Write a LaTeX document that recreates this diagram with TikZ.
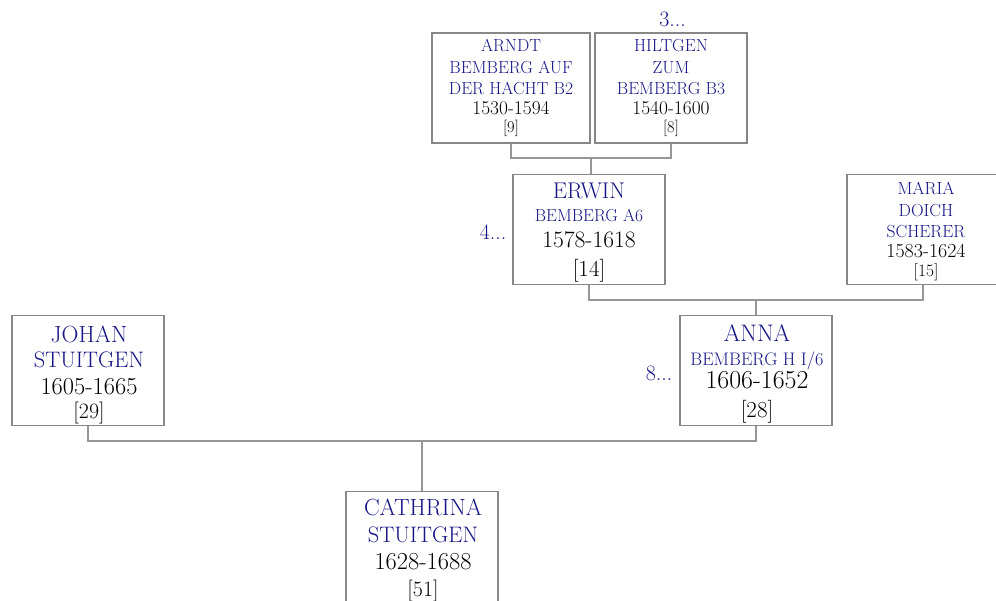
\documentclass[tikz,border=0pt]{standalone}
\usepackage{fontspec}
\definecolor{nameblue}{RGB}{22,22,135}
\definecolor{boxgray}{RGB}{135,135,135}
\definecolor{linegray}{RGB}{150,150,150}
\newcommand{\fs}[1]{\fontsize{#1}{#1}\selectfont}
\begin{document}
\begin{tikzpicture}[x=1bp,y=-1bp,
  person/.style={draw=boxgray, line width=1.1bp, fill=white, minimum height=110bp, inner sep=0},
  nm/.style={text=nameblue, anchor=base, inner sep=0},
  dt/.style={text=black, anchor=base, inner sep=0},
  more/.style={text=nameblue, anchor=base, inner sep=0, font=\fs{22}},
  conn/.style={draw=linegray, line width=1.2bp}]
\useasboundingbox (0,0) rectangle (996,601);
% boxes
\node[person, minimum width=158bp] (arndt) at (511,88) {};
\node[person, minimum width=152bp] (hiltgen) at (671,88) {};
\node[person, minimum width=152bp] (erwin) at (589,229.5) {};
\node[person, minimum width=152bp] (maria) at (923,229.5) {};
\node[person, minimum width=152bp] (anna) at (756,370.5) {};
\node[person, minimum width=152bp] (johan) at (88,370.5) {};
\node[person, minimum width=152bp] (cathrina) at (422,546.5) {};
% junctions
\coordinate (j1) at (591,158);
\coordinate (j2) at (756,300);
\coordinate (j3) at (422,441);
% connectors
\draw[conn] (arndt.south) |- (j1) -| (hiltgen.south);
\draw[conn] (j1) -- (j1 |- erwin.north);
\draw[conn] (erwin.south) |- (j2) -| (maria.south);
\draw[conn] (j2) -- (j2 |- anna.north);
\draw[conn] (johan.south) |- (j3) -| (anna.south);
\draw[conn] (j3) -- (j3 |- cathrina.north);
% ARNDT
\node[nm, font=\fs{17.5}] (a1) at (511,51.5) {ARNDT};
\node[nm, font=\fs{17.5}] (a2) at (511,73.5) {BEMBERG AUF};
\node[nm, font=\fs{17.5}] (a3) at (511,95) {DER HACHT B2};
\node[dt, font=\fs{19.5}] (a4) at (511,114.5) {1530-1594};
\node[dt, font=\fs{16.5}] (a5) at (511,132.5) {[9]};
% HILTGEN
\node[nm, font=\fs{17.5}] (h1) at (671,51.5) {HILTGEN};
\node[nm, font=\fs{17.5}] (h2) at (671,73.5) {ZUM};
\node[nm, font=\fs{17.5}] (h3) at (671,95) {BEMBERG B3};
\node[dt, font=\fs{19.5}] (h4) at (671,114.5) {1540-1600};
\node[dt, font=\fs{16.5}] (h5) at (671,132.5) {[8]};
\node[more] (m3) at (672.5,27) {3...};
% ERWIN
\node[nm, font=\fs{22.8}] (e1) at (589,199) {ERWIN};
\node[nm, font=\fs{17.4}] (e2) at (589,222) {BEMBERG A6};
\node[dt, font=\fs{23.6}] (e3) at (589,248) {1578-1618};
\node[dt, font=\fs{23}] (e4) at (589,277) {[14]};
\node[more] (m4) at (493,240) {4...};
% MARIA
\node[nm, font=\fs{17.6}] (r1) at (926,195) {MARIA};
\node[nm, font=\fs{17.6}] (r2) at (926,217) {DOICH};
\node[nm, font=\fs{17.6}] (r3) at (926,238) {SCHERER};
\node[dt, font=\fs{20}] (r4) at (926,257.5) {1583-1624};
\node[dt, font=\fs{17.5}] (r5) at (926,276.5) {[15]};
% ANNA
\node[nm, font=\fs{24}] (n1) at (757,341) {ANNA};
\node[nm, font=\fs{18.2}] (n2) at (757,365) {BEMBERG H I/6};
\node[dt, font=\fs{26}] (n3) at (757,388) {1606-1652};
\node[dt, font=\fs{23}] (n4) at (757,417) {[28]};
\node[more] (m8) at (659,380) {8...};
% JOHAN
\node[nm, font=\fs{23.5}] (o1) at (89,342) {JOHAN};
\node[nm, font=\fs{22.5}] (o2) at (89,367) {STUITGEN};
\node[dt, font=\fs{24.5}] (o3) at (89,394) {1605-1665};
\node[dt, font=\fs{22}] (o4) at (89,418) {[29]};
% CATHRINA
\node[nm, font=\fs{23.5}] (c1) at (423,515) {CATHRINA};
\node[nm, font=\fs{22.5}] (c2) at (423,542) {STUITGEN};
\node[dt, font=\fs{24.5}] (c3) at (423,569) {1628-1688};
\node[dt, font=\fs{22}] (c4) at (423,596) {[51]};
\end{tikzpicture}
\end{document}
